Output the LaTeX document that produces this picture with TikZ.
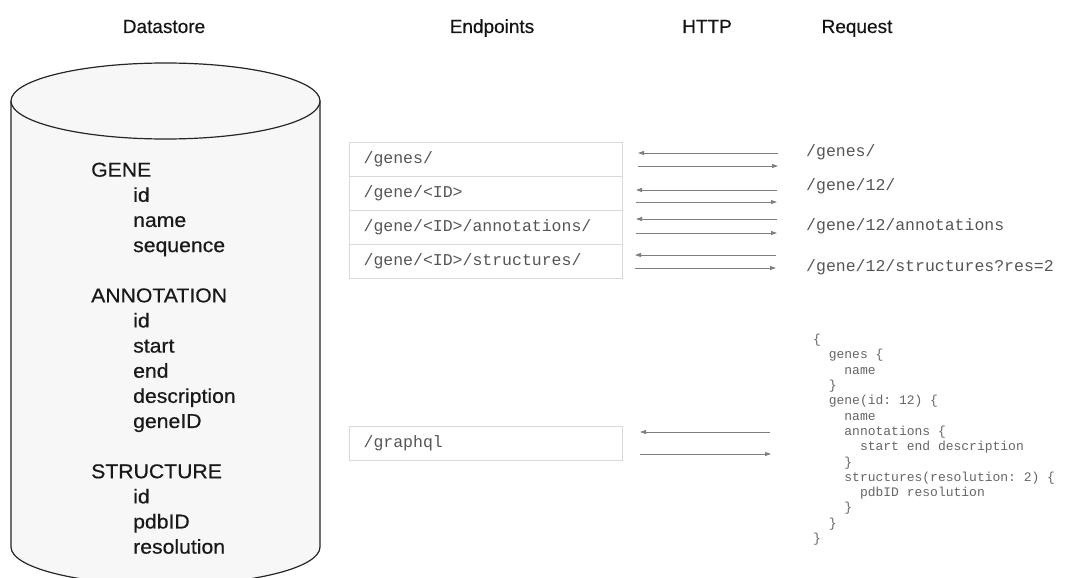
\documentclass[tikz,border=0pt]{standalone}
\usepackage{fontspec}
\setmainfont{Liberation Sans}
\setmonofont{Liberation Mono}
\newfontfamily\headfont{Liberation Sans}[FakeBold=0.35]
\newfontfamily\cylfont{Liberation Sans}[FakeBold=0.45,FakeStretch=1.06]
\usetikzlibrary{arrows.meta}
\definecolor{cylfill}{HTML}{F7F7F7}
\definecolor{boxline}{HTML}{D9D9D9}
\definecolor{ttgray}{HTML}{555555}
\definecolor{qgray}{HTML}{666666}
\definecolor{arrgray}{HTML}{7F7F7F}
\newcommand{\indlvl}[1]{\hspace*{#1}}
\begin{document}
\begin{tikzpicture}[x=1pt,y=-1pt,
  heading/.style={anchor=base,font=\headfont\fontsize{19}{22}\selectfont,text=black!92,inner sep=0pt},
  epbox/.style={draw=boxline,line width=1.2pt,anchor=north west,minimum width=273pt,minimum height=34pt,
    inner xsep=14pt,inner ysep=0pt,text width=245pt,align=left,font=\ttfamily\fontsize{16.5}{18}\selectfont,text=ttgray},
  reqtext/.style={anchor=west,inner sep=0pt,font=\ttfamily\fontsize{16.5}{18}\selectfont,text=ttgray},
  conn/.style={draw=arrgray,line width=0.8pt,-{Triangle[length=6pt,width=4pt]}}
]
\useasboundingbox (0,0) rectangle (1069,578);
\fill[white] (0,0) rectangle (1069,578);

% headings
\node[heading] (hds) at (164,33) {Datastore};
\node[heading] (hep) at (492,33) {Endpoints};
\node[heading] (hhttp) at (707,33) {HTTP};
\node[heading] (hreq) at (857,33) {Request};

% cylinder
\path[fill=cylfill,draw=black!85,line width=1.2pt]
  (11,101) -- (11,547) arc[start angle=180,end angle=360,x radius=154.5pt,y radius=38pt]
  -- (320,101);
\draw[fill=cylfill,draw=black!85,line width=1.2pt] (165.5,101) ellipse [x radius=154.5pt,y radius=38pt];

\node[anchor=north west,inner sep=0pt,align=left,font=\cylfont\fontsize{20}{25.13}\selectfont,text=black!90] (schema) at (91,162.5)
{GENE\\
\indlvl{42pt}id\\
\indlvl{42pt}name\\
\indlvl{42pt}sequence\\
\strut\\
ANNOTATION\\
\indlvl{42pt}id\\
\indlvl{42pt}start\\
\indlvl{42pt}end\\
\indlvl{42pt}description\\
\indlvl{42pt}geneID\\
\strut\\
STRUCTURE\\
\indlvl{42pt}id\\
\indlvl{42pt}pdbID\\
\indlvl{42pt}resolution};

% endpoint boxes
\node[epbox] (ep1) at (349,142) {/genes/};
\node[epbox] (ep2) at (349,176) {/gene/<ID>};
\node[epbox] (ep3) at (349,210) {/gene/<ID>/annotations/};
\node[epbox] (ep4) at (349,244) {/gene/<ID>/structures/};
\node[epbox] (ep5) at (349,426) {/graphql};

% request texts
\node[reqtext] (rq1) at (806,152) {/genes/};
\node[reqtext] (rq2) at (806,186) {/gene/12/};
\node[reqtext] (rq3) at (806,226) {/gene/12/annotations};
\node[reqtext] (rq4) at (806,267) {/gene/12/structures?res=2};

\node[anchor=north west,inner sep=0pt,align=left,font=\ttfamily\fontsize{13}{15.3}\selectfont,text=qgray] (query) at (813,334)
{\{\\
\indlvl{15.6pt}genes \{\\
\indlvl{31.2pt}name\\
\indlvl{15.6pt}\}\\
\indlvl{15.6pt}gene(id: 12) \{\\
\indlvl{31.2pt}name\\
\indlvl{31.2pt}annotations \{\\
\indlvl{46.8pt}start end description\\
\indlvl{31.2pt}\}\\
\indlvl{31.2pt}structures(resolution: 2) \{\\
\indlvl{46.8pt}pdbID resolution\\
\indlvl{31.2pt}\}\\
\indlvl{15.6pt}\}\\
\}};

% connector end points
\coordinate (a1r) at (778,153); \coordinate (a1l) at (638,153);
\coordinate (b1l) at (638,166); \coordinate (b1r) at (778,166);
\coordinate (a2r) at (777,190); \coordinate (a2l) at (636,190);
\coordinate (b2l) at (636,202); \coordinate (b2r) at (777,202);
\coordinate (a3r) at (777,219); \coordinate (a3l) at (636,219);
\coordinate (b3l) at (636,233); \coordinate (b3r) at (777,233);
\coordinate (a4r) at (776,255); \coordinate (a4l) at (635,255);
\coordinate (b4l) at (635,268); \coordinate (b4r) at (776,268);
\coordinate (a5r) at (770,432); \coordinate (a5l) at (640,432);
\coordinate (b5l) at (640,454); \coordinate (b5r) at (771,454);

\draw[conn] (a1r) -- (a1l);
\draw[conn] (b1l) -- (b1r);
\draw[conn] (a2r) -- (a2l);
\draw[conn] (b2l) -- (b2r);
\draw[conn] (a3r) -- (a3l);
\draw[conn] (b3l) -- (b3r);
\draw[conn] (a4r) -- (a4l);
\draw[conn] (b4l) -- (b4r);
\draw[conn] (a5r) -- (a5l);
\draw[conn] (b5l) -- (b5r);
\end{tikzpicture}
\end{document}
